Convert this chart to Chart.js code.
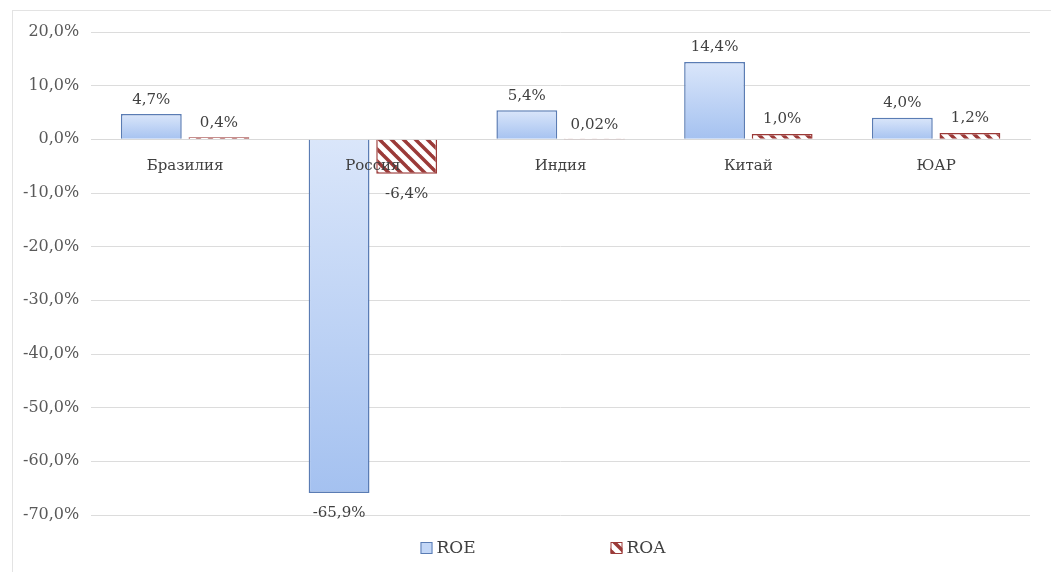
<!DOCTYPE html>
<html>
<head>
<meta charset="utf-8">
<script src="https://cdn.jsdelivr.net/npm/chart.js@4/dist/chart.umd.min.js"></script>
<style>
  body { margin: 0; background: #fff; }
  #wrap { width: 1051px; height: 572px; }
</style>
</head>
<body>
<div id="wrap"><canvas id="myChart" width="1051" height="572"></canvas></div>
<script>
const categories = ['Бразилия', 'Россия', 'Индия', 'Китай', 'ЮАР'];
const roeValues = [4.7, -65.9, 5.4, 14.4, 4.0];
const roaValues = [0.4, -6.4, 0.02, 1.0, 1.2];
const seriesNames = ['ROE', 'ROA'];
const yMin = -70;
const yMax = 20;
const yStep = 10;

const serif = 'DejaVu Serif';

const fmt = (v, d) => v.toFixed(d).replace('.', ',') + '%';
const decimalsOf = (v) => (v !== 0 && Math.abs(v) < 0.1 ? 2 : 1);

// red diagonal hatch like the Excel pattern fill
const makeHatch = () => {
  const c = document.createElement('canvas');
  c.width = 12;
  c.height = 12;
  const g = c.getContext('2d');
  g.fillStyle = '#ffffff';
  g.fillRect(0, 0, 12, 12);
  g.strokeStyle = '#9b3a38';
  g.lineWidth = 3.5;
  [-12, 0, 12].forEach((k) => {
    g.beginPath();
    g.moveTo(k - 2, -2);
    g.lineTo(k + 14, 14);
    g.stroke();
  });
  return g.createPattern(c, 'repeat');
};
const hatch = makeHatch();

// vertical gradient per bar
const blueFill = (context) => {
  const chart = context.chart;
  const y = chart.scales.y;
  const v = context.raw;
  if (!y || typeof v !== 'number') return '#bcd2f5';
  const top = y.getPixelForValue(Math.max(v, 0));
  const bottom = y.getPixelForValue(Math.min(v, 0));
  if (!isFinite(top) || !isFinite(bottom)) return '#bcd2f5';
  const grad = chart.ctx.createLinearGradient(0, top, 0, bottom + 1);
  grad.addColorStop(0, '#dae6fa');
  grad.addColorStop(1, '#a4c1f0');
  return grad;
};

const frame = {
  id: 'frame',
  beforeDraw(chart) {
    const ctx = chart.ctx;
    ctx.save();
    ctx.strokeStyle = '#e3e3e3';
    ctx.lineWidth = 1;
    ctx.strokeRect(12.5, 10.5, chart.width, chart.height);
    ctx.restore();
  },
};

const valueLabels = {
  id: 'valueLabels',
  afterDatasetsDraw(chart) {
    const ctx = chart.ctx;
    ctx.save();
    ctx.font = '15px "' + serif + '"';
    ctx.fillStyle = '#404040';
    ctx.textAlign = 'center';
    chart.data.datasets.forEach((ds, di) => {
      chart.getDatasetMeta(di).data.forEach((bar, i) => {
        const v = ds.data[i];
        const text = fmt(v, decimalsOf(v));
        if (v >= 0) {
          ctx.textBaseline = 'bottom';
          ctx.fillText(text, bar.x, bar.y - 7);
        } else {
          ctx.textBaseline = 'top';
          ctx.fillText(text, bar.x, bar.y + 13);
        }
      });
    });
    ctx.restore();
  },
};

const bottomLegend = {
  id: 'bottomLegend',
  afterDraw(chart) {
    const ctx = chart.ctx;
    const cx = chart.width / 2;
    const y = 548;
    const offsets = [-105, 85];
    ctx.save();
    ctx.font = '17px "' + serif + '"';
    ctx.textBaseline = 'middle';
    ctx.textAlign = 'left';
    chart.data.datasets.forEach((ds, i) => {
      const x = cx + offsets[i];
      ctx.fillStyle = i === 0 ? '#c3d7f7' : hatch;
      ctx.fillRect(x, y - 6, 12, 12);
      ctx.strokeStyle = ds.borderColor;
      ctx.lineWidth = 1;
      ctx.strokeRect(x + 0.5, y - 5.5, 11, 11);
      ctx.fillStyle = '#404040';
      ctx.fillText(ds.label, x + 16, y + 1);
    });
    ctx.restore();
  },
};

const ctx = document.getElementById('myChart').getContext('2d');
const myChart = new Chart(ctx, {
  type: 'bar',
  data: {
    labels: categories,
    datasets: [{
      label: seriesNames[0],
      data: roeValues,
      backgroundColor: blueFill,
      borderColor: '#5a7cb4',
      borderWidth: 1.5,
    }, {
      label: seriesNames[1],
      data: roaValues,
      backgroundColor: hatch,
      borderColor: '#9b3a38',
      borderWidth: 1.5,
    }],
  },
  options: {
    responsive: false,
    devicePixelRatio: 1,
    animation: false,
    categoryPercentage: 0.72,
    barPercentage: 0.9,
    layout: { padding: { top: 32, left: 11, right: 21, bottom: 57 } },
    plugins: {
      legend: { display: false },
      tooltip: { enabled: false },
    },
    scales: {
      x: {
        position: { y: 0 },
        grid: { display: false },
        border: { display: true, color: '#d9d9d9' },
        ticks: {
          z: 1,
          padding: 10,
          color: '#404040',
          font: { family: serif, size: 15 },
        },
      },
      y: {
        min: yMin,
        max: yMax,
        grid: { color: '#dcdcdc', drawTicks: false },
        border: { display: false },
        ticks: {
          stepSize: yStep,
          padding: 12,
          color: '#595959',
          font: { family: serif, size: 16 },
          callback: (v) => fmt(v, 1),
        },
      },
    },
  },
  plugins: [frame, valueLabels, bottomLegend],
});
</script>
</body>
</html>
